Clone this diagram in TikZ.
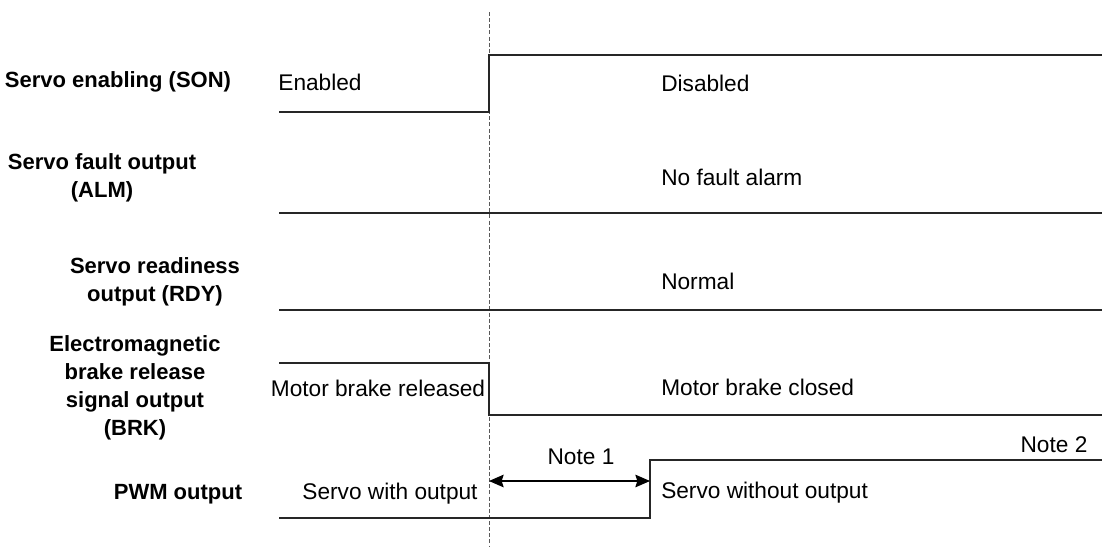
\documentclass[tikz,border=0pt]{standalone}
\usepackage{fontspec}
\setmainfont{Liberation Sans}
\usepackage{tikz}
\usetikzlibrary{arrows.meta,positioning,calc}

\begin{document}
\begin{tikzpicture}[
    x=0.75pt, y=-0.75pt,
    >={Stealth[length=11pt,width=9.5pt,inset=1.5pt]},
    font=\fontsize{17}{21}\selectfont,
    sig/.style={
        align=center,
        inner sep=0pt,
        font=\fontsize{16.5}{21}\selectfont\bfseries
    },
    state/.style={
        inner sep=0pt
    },
    wave/.style={draw=black!85, line width=0.8pt},
    mark line/.style={draw=black!65, line width=0.7pt, dash pattern=on 3pt off 1.6pt},
    arr/.style={<->, line width=0.8pt}
]
\useasboundingbox (0,0) rectangle (1102,547);

% signal names
\node[sig] (sonlbl) at (118,82) {Servo enabling (SON)};
\node[sig] (almlbl) at (102,178) {Servo fault output\\(ALM)};
\node[sig] (rdylbl) at (155,282) {Servo readiness\\output (RDY)};
\node[sig] (brklbl) at (135,388) {Electromagnetic\\brake release\\signal output\\(BRK)};
\node[sig] (pwmlbl) at (178,494) {PWM output};

% switching instant
\coordinate (toff) at (489,12);
\coordinate (tend) at (489,547);
\draw[mark line] (toff) -- (tend);

% waveforms
\draw[wave] (279,112) -- (489,112) -- (489,55) -- (1102,55);
\draw[wave] (279,213) -- (1102,213);
\draw[wave] (279,310) -- (1102,310);
\draw[wave] (279,363) -- (489,363) -- (489,415) -- (1102,415);
\draw[wave] (279,518) -- (650,518) -- (650,460) -- (1102,460);

% states
\node[state] (enabled) at (320,82) {Enabled};
\node[state, anchor=west] (disabled) at (661,83) {Disabled};
\node[state, anchor=west] (nofault) at (661,177) {No fault alarm};
\node[state, anchor=west] (normal) at (661,281) {Normal};
\node[state] (released) at (378,388) {Motor brake released};
\node[state, anchor=west] (closed) at (661,387) {Motor brake closed};
\node[state] (without) at (390,494) {Servo with output};
\node[state, anchor=west] (noout) at (661,493) {Servo without output};

% delay
\coordinate (dly1) at (489,481);
\coordinate (dly2) at (650,481);
\draw[arr] (dly1) -- (dly2);
\node[state] (note1) at (581,457) {Note 1};
\node[state] (note2) at (1054,445) {Note 2};

\end{tikzpicture}
\end{document}
